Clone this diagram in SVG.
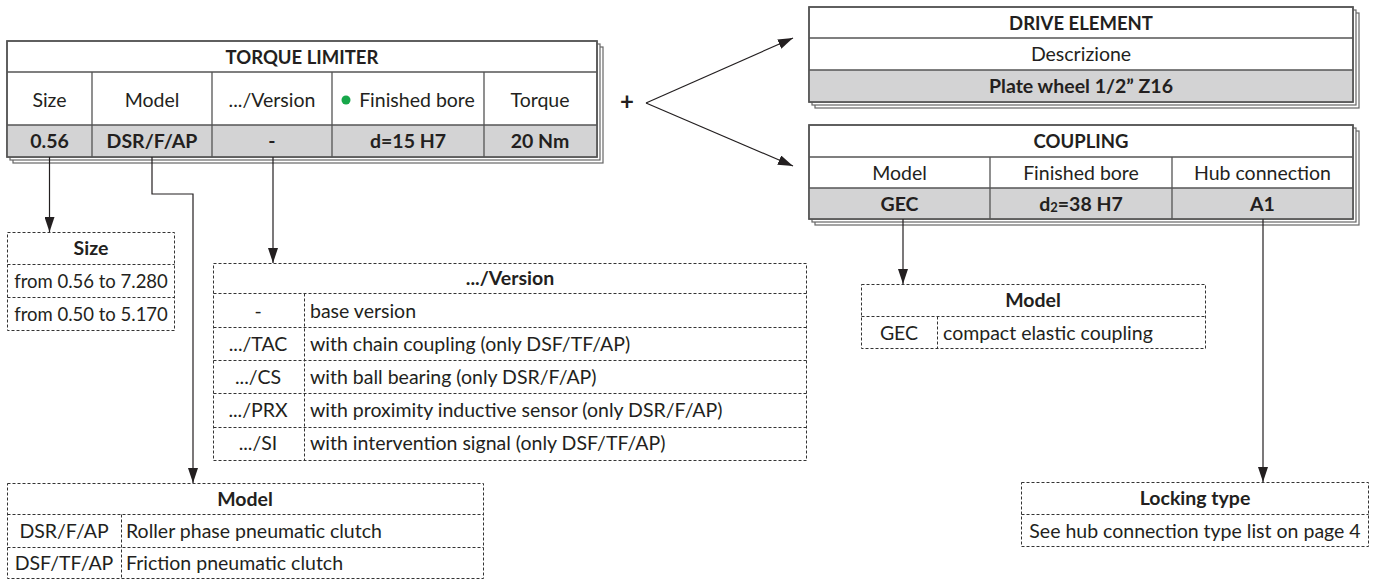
<svg xmlns="http://www.w3.org/2000/svg" width="1379" height="581" viewBox="0 0 1379 581">
<defs>
<marker id="ah" viewBox="0 0 15 10" refX="15" refY="5" markerWidth="15" markerHeight="10" markerUnits="userSpaceOnUse" orient="auto">
<path d="M0,0 L15,5 L0,10 z" fill="#231f20"/>
</marker>
</defs>
<style>
text{font-family:Lato,"Open Sans","Liberation Sans",sans-serif;font-size:19.5px;fill:#231f20;}
.b{font-weight:bold;}
.t{font-size:18.5px;}
.n{font-size:18.5px;}
.m{text-anchor:middle;}
.box{fill:#fff;stroke:#555;stroke-width:1.5;}
.sh{fill:#fff;stroke:#666;stroke-width:1.2;}
.gray{fill:#d3d3d4;}
.ln{stroke:#555;stroke-width:1.3;fill:none;}
.d{fill:none;stroke:#333;stroke-width:1;stroke-dasharray:3,2;}
.c{fill:none;stroke:#231f20;stroke-width:1.2;}
</style>
<rect width="1379" height="581" fill="#fff"/>

<g id="torque-limiter">
<rect class="sh" x="13" y="47" width="590" height="116"/>
<rect class="sh" x="10" y="44" width="590" height="116"/>
<rect class="box" x="7" y="41" width="590" height="116"/>
<rect class="gray" x="7.7" y="125" width="588.6" height="31.3"/>
<path class="ln" d="M7,72 H597 M7,125 H597 M92,72 V157 M212,72 V157 M332,72 V157 M484,72 V157"/>
<rect class="box" x="7" y="41" width="590" height="116" style="fill:none"/>
<text class="b m t" x="302" y="64">TORQUE LIMITER</text>
<text class="m" x="49.5" y="107">Size</text>
<text class="m" x="152" y="107">Model</text>
<text class="m" x="272" y="107">.../Version</text>
<circle cx="346" cy="100" r="4.5" fill="#17a74a"/>
<text class="m" x="417" y="107">Finished bore</text>
<text class="m" x="540" y="107">Torque</text>
<text class="b m" x="49.5" y="148">0.56</text>
<text class="b m" x="152" y="148">DSR/F/AP</text>
<text class="b m" x="272" y="148">-</text>
<text class="b m" x="408" y="148">d=15 H7</text>
<text class="b m" x="540" y="148">20 Nm</text>
</g>

<g id="plus">
<text class="b m" x="627" y="110" style="font-size:24px">+</text>
</g>

<g id="drive-element">
<rect class="sh" x="815" y="13" width="544" height="95"/>
<rect class="sh" x="812" y="10" width="544" height="95"/>
<rect class="box" x="809" y="7" width="544" height="95"/>
<rect class="gray" x="809.7" y="70" width="542.6" height="31.3"/>
<path class="ln" d="M809,38 H1353 M809,70 H1353"/>
<rect class="box" x="809" y="7" width="544" height="95" style="fill:none"/>
<text class="b m t" x="1081" y="30">DRIVE ELEMENT</text>
<text class="m" x="1081" y="61">Descrizione</text>
<text class="b m" x="1081" y="93">Plate wheel 1/2” Z16</text>
</g>

<g id="coupling">
<rect class="sh" x="815" y="131" width="544" height="94"/>
<rect class="sh" x="812" y="128" width="544" height="94"/>
<rect class="box" x="809" y="125" width="544" height="94"/>
<rect class="gray" x="809.7" y="188" width="542.6" height="30.3"/>
<path class="ln" d="M809,157 H1353 M809,188 H1353 M990,157 V219 M1172,157 V219"/>
<rect class="box" x="809" y="125" width="544" height="94" style="fill:none"/>
<text class="b m t" x="1081" y="148">COUPLING</text>
<text class="m" x="899.5" y="180">Model</text>
<text class="m" x="1081" y="180">Finished bore</text>
<text class="m" x="1262.5" y="180">Hub connection</text>
<text class="b m" x="899.5" y="211">GEC</text>
<text class="b m" x="1081" y="211">d<tspan style="font-size:13px" dy="1">2</tspan><tspan dy="-1">=38 H7</tspan></text>
<text class="b m" x="1262.5" y="211">A1</text>
</g>

<g id="size-table">
<rect class="d" x="7.5" y="232.5" width="167" height="98"/>
<path class="d" d="M7.5,264.5 H174.5 M7.5,297.5 H174.5"/>
<text class="b m" x="91" y="255">Size</text>
<text class="m n" x="91" y="288">from 0.56 to 7.280</text>
<text class="m n" x="91" y="321">from 0.50 to 5.170</text>
</g>

<g id="version-table">
<rect class="d" x="213.5" y="263.5" width="593" height="197"/>
<path class="d" d="M213.5,293.5 H806.5 M213.5,327.5 H806.5 M213.5,360.5 H806.5 M213.5,393.5 H806.5 M213.5,427.5 H806.5 M304.5,293.5 V460.5"/>
<text class="b m" x="510" y="285">.../Version</text>
<text class="m" x="258" y="318">-</text>
<text x="310" y="318">base version</text>
<text class="m" x="258" y="351">.../TAC</text>
<text x="310" y="351">with chain coupling (only DSF/TF/AP)</text>
<text class="m" x="258" y="384">.../CS</text>
<text x="310" y="384">with ball bearing (only DSR/F/AP)</text>
<text class="m" x="258" y="417">.../PRX</text>
<text x="310" y="417">with proximity inductive sensor (only DSR/F/AP)</text>
<text class="m" x="258" y="450">.../SI</text>
<text x="310" y="450">with intervention signal (only DSF/TF/AP)</text>
</g>

<g id="model-table">
<rect class="d" x="7.5" y="483.5" width="476" height="95"/>
<path class="d" d="M7.5,514.5 H483.5 M7.5,547.5 H483.5 M121.5,514.5 V578.5"/>
<text class="b m" x="245" y="506">Model</text>
<text class="m" x="64" y="538">DSR/F/AP</text>
<text x="126" y="538">Roller phase pneumatic clutch</text>
<text class="m" x="64" y="570">DSF/TF/AP</text>
<text x="126" y="570">Friction pneumatic clutch</text>
</g>

<g id="coupling-model-table">
<rect class="d" x="861.5" y="284.5" width="344" height="64"/>
<path class="d" d="M861.5,316.5 H1205.5 M937.5,316.5 V348.5"/>
<text class="b m" x="1033" y="307">Model</text>
<text class="m" x="899" y="340">GEC</text>
<text x="943" y="340">compact elastic coupling</text>
</g>

<g id="locking-type-table">
<rect class="d" x="1021.5" y="482.5" width="347" height="64"/>
<path class="d" d="M1021.5,514.5 H1368.5"/>
<text class="b m" x="1195" y="505">Locking type</text>
<text class="m" x="1195" y="538">See hub connection type list on page 4</text>
</g>

<g id="connectors">
<path class="c" d="M646,103 L793,38" marker-end="url(#ah)"/>
<path class="c" d="M646,103 L793,166" marker-end="url(#ah)"/>
<path class="c" d="M49.5,157 V232" marker-end="url(#ah)"/>
<path class="c" d="M152,157 V194 H193 V483" marker-end="url(#ah)"/>
<path class="c" d="M273,157 V263" marker-end="url(#ah)"/>
<path class="c" d="M903,219 V284" marker-end="url(#ah)"/>
<path class="c" d="M1263,219 V482" marker-end="url(#ah)"/>
</g>
</svg>
